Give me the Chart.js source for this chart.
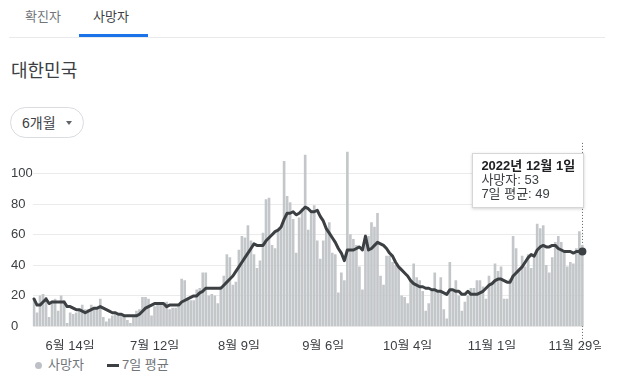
<!DOCTYPE html>
<html lang="ko">
<head>
<meta charset="utf-8">
<script src="https://cdn.jsdelivr.net/npm/chart.js@4/dist/chart.umd.min.js"></script>
<style>
  html, body { margin: 0; padding: 0; background: #fff; }
  body { width: 617px; height: 383px; overflow: hidden; position: relative;
         font-family: "Liberation Sans", Arial, "Noto Sans CJK KR", sans-serif; }
  .tab { position: absolute; top: 8px; font-size: 13px; line-height: 18px; }
  #tab1 { left: 25px; color: #70757a; }
  #tab2 { left: 93px; color: #3c4043; }
  #tabline { position: absolute; left: 79px; top: 34px; width: 69px; height: 3px; background: #1a73e8; }
  #divider { position: absolute; left: 9px; top: 37px; width: 596px; height: 1px; background: #e8eaed; }
  #title { position: absolute; left: 11px; top: 59px; font-size: 18px; line-height: 24px; color: #3c4043; }
  #pill { position: absolute; left: 10px; top: 107px; width: 72px; height: 29px; border: 1px solid #dadce0;
          border-radius: 16px; }
  #pilltxt { position: absolute; left: 11px; top: 6px; font-size: 14px; line-height: 18px; color: #3c4043; }
  #arrow { position: absolute; left: 55px; top: 13px; width: 0; height: 0;
           border-left: 3.5px solid transparent; border-right: 3.5px solid transparent; border-top: 4px solid #5f6368; }
  #chart { position: absolute; left: 0; top: 130px; }
  #tip { position: absolute; top: 153px; left: 468px; background: #fff; border: 1px solid #d6d6d6;
         box-shadow: 0 1px 3px rgba(0,0,0,0.18); padding: 5px 8px 6px 8px; font-size: 13px; line-height: 14px;
         color: #3c4043; white-space: nowrap; }
  #tip b { color: #202124; }
  #legend { position: absolute; left: 34px; top: 357px; font-size: 13px; line-height: 16px; color: #70757a; }
  #legend span { position: absolute; white-space: nowrap; top: 0; }
  .dot { position: absolute; width: 7px; height: 7px; border-radius: 50%; background: #bdc1c6; }
  .dash { position: absolute; width: 12px; height: 3px; background: #3c4043; }
</style>
</head>
<body>
<div class="tab" id="tab1">확진자</div>
<div class="tab" id="tab2">사망자</div>
<div id="tabline"></div>
<div id="divider"></div>
<div id="title">대한민국</div>
<div id="pill"><div id="pilltxt">6개월</div><div id="arrow"></div></div>
<canvas id="chart" width="601" height="220"></canvas>
<div id="tip"></div>
<div id="legend">
  <div class="dot" style="left:1px;top:5px"></div>
  <span style="left:14px">사망자</span>
  <div class="dash" style="left:73px;top:7px"></div>
  <span style="left:88px">7일 평균</span>
</div>
<script>
// ---- data (2022-06-02 .. 2022-12-01) ----
const startDate = [2022, 6, 2];
const dayCount = 183;
const categories = [];
for (let k = 0; k < dayCount; k++) {
  const d = new Date(startDate[0], startDate[1] - 1, startDate[2] + k);
  categories.push((d.getMonth() + 1) + '월 ' + d.getDate() + '일');
}
const tickLabels = ['6월 14일', '7월 12일', '8월 9일', '9월 6일', '10월 4일', '11월 1일', '11월 29일'];
const yTicks = [0, 20, 40, 60, 80, 100];

const deaths = [
  18, 9, 20, 21, 19, 6, 17, 18, 10, 20,
  17, 2, 9, 8, 9, 10, 14, 11, 11, 14,
  12, 11, 18, 6, 3, 5, 7, 8, 8, 8,
  6, 4, 2, 7, 10, 11, 19, 19, 18, 7,
  13, 15, 14, 15, 16, 11, 12, 12, 13, 31,
  30, 18, 17, 17, 24, 25, 35, 35, 20,
  21, 20, 15,
  26, 33, 47, 45, 27, 29, 50, 59, 58, 66,
  56, 47, 38, 43, 61, 83, 84, 53, 51, 62,
  65, 108, 85, 81, 70, 48, 71, 77, 112, 63,
  76,
  79, 56, 44, 56, 63, 68, 48, 47, 22, 35,
  30, 114, 60, 57, 53, 39, 24, 60, 59, 68,
  65, 74, 33, 27, 46, 46, 42, 40, 38, 20,
  19,
  15, 30, 41, 32, 30, 23, 10, 15, 24, 35,
  22, 32, 11, 5, 42, 23, 30, 20, 10, 16,
  20, 25, 25, 30, 30, 26, 18, 33, 28, 41,
  36, 39,
  18, 18, 31, 59, 51, 36, 46, 39, 47, 38,
  47, 67, 64, 66, 40, 35, 45, 55, 59, 55,
  49, 39, 42, 41, 51, 62, 53
];

const avg7 = [
  18, 14, 14, 16, 18, 15, 16, 16, 16, 16,
  16, 13, 13, 12, 11, 11, 10, 9, 10, 11,
  12, 12, 13, 12, 11, 10, 9, 9, 8, 8,
  7, 7, 7, 7, 7, 8, 10, 12, 13, 14,
  15, 15, 15, 15, 13, 14, 14, 14, 14, 16,
  17, 18, 19, 20, 20, 22, 23, 25, 25,
  25, 25, 25,
  25, 27, 29, 31, 33, 36, 39, 42, 45, 48,
  51, 54, 53, 53, 53, 56, 58, 60, 62, 63,
  65, 70, 74, 74, 75, 73, 74, 76, 78, 77,
  75,
  75, 76, 72, 69, 64, 61, 58, 55, 51, 48,
  43, 50, 50, 50, 51, 52, 50, 59, 50, 51,
  53, 55, 54, 53, 51, 48, 46, 42, 39, 37,
  35,
  33, 30, 28, 27, 26, 26, 25, 25, 24, 24,
  23, 23, 22, 21, 24, 24, 23, 23, 21, 21,
  23, 21, 21, 21, 22, 23, 25, 27, 28, 30,
  31, 31,
  30, 29, 29, 33, 35, 37, 39, 42, 45, 47,
  46, 50, 52, 53, 52, 52, 53, 53, 51, 50,
  49, 49, 49, 48, 49, 49, 49
];

const seriesNames = ['사망자', '7일 평균'];

// ---- chart ----
const FONT = '"Liberation Sans", Arial, "Noto Sans CJK KR", sans-serif';
const last = deaths.length - 1;

const guide = {
  id: 'guide',
  beforeDatasetsDraw(chart) {
    const { ctx, chartArea } = chart;
    const x = Math.round(chart.scales.x.getPixelForValue(last)) + 0.5;
    ctx.save();
    ctx.strokeStyle = '#5f6368';
    ctx.lineWidth = 1;
    ctx.setLineDash([1, 2]);
    ctx.beginPath();
    ctx.moveTo(x, chartArea.top);
    ctx.lineTo(x, chart.height - 2);
    ctx.stroke();
    ctx.restore();
  }
};

const chart = new Chart(document.getElementById('chart'), {
  type: 'bar',
  data: {
    labels: categories,
    datasets: [
      {
        type: 'line',
        label: seriesNames[1],
        data: avg7,
        borderColor: '#3c4043',
        backgroundColor: '#3c4043',
        borderWidth: 3,
        borderJoinStyle: 'round',
        borderCapStyle: 'round',
        tension: 0,
        pointRadius: avg7.map((v, k) => (k === last ? 4 : 0)),
        pointBackgroundColor: '#3c4043',
        pointBorderWidth: 0,
        order: 0
      },
      {
        type: 'bar',
        label: seriesNames[0],
        data: deaths,
        backgroundColor: '#c4c7ca',
        barThickness: 2,
        order: 1
      }
    ]
  },
  options: {
    responsive: false,
    devicePixelRatio: 1,
    animation: false,
    layout: { padding: { left: 11, top: 12.9, right: 17.1, bottom: 0 } },
    plugins: { legend: { display: false }, tooltip: { enabled: false } },
    events: [],
    scales: {
      x: {
        offset: true,
        grid: { display: false },
        border: { display: false },
        ticks: {
          autoSkip: false,
          maxRotation: 0,
          minRotation: 0,
          padding: 4,
          color: '#3c4043',
          font: { family: FONT, size: 13 },
          callback: function (v, k) {
            const lab = categories[k];
            return tickLabels.includes(lab) ? lab : '';
          }
        },
        afterFit: function (s) { s.height = 23.5; s.paddingLeft = 0; s.paddingRight = 0; }
      },
      y: {
        min: 0,
        max: 120,
        afterBuildTicks: function (s) { s.ticks = yTicks.map(v => ({ value: v })); },
        grid: { color: '#ebebeb', drawTicks: false, lineWidth: 1 },
        border: { display: false },
        ticks: {
          crossAlign: 'far',
          padding: 0,
          color: '#3c4043',
          font: { family: FONT, size: 13 }
        },
        afterFit: function (s) { s.width = 21.5; s.paddingTop = 0; s.paddingBottom = 0; }
      }
    }
  },
  plugins: [guide]
});

// ---- tooltip box (HTML text) ----
const tip = document.getElementById('tip');
const lastDate = new Date(startDate[0], startDate[1] - 1, startDate[2] + last);
tip.innerHTML = '<b>' + lastDate.getFullYear() + '년 ' + categories[last] + '</b><br>' +
  seriesNames[0] + ': ' + deaths[last] + '<br>' + seriesNames[1] + ': ' + avg7[last];
const px = chart.scales.x.getPixelForValue(last);
tip.style.left = (px + 2 - tip.offsetWidth) + 'px';
</script>
</body>
</html>
